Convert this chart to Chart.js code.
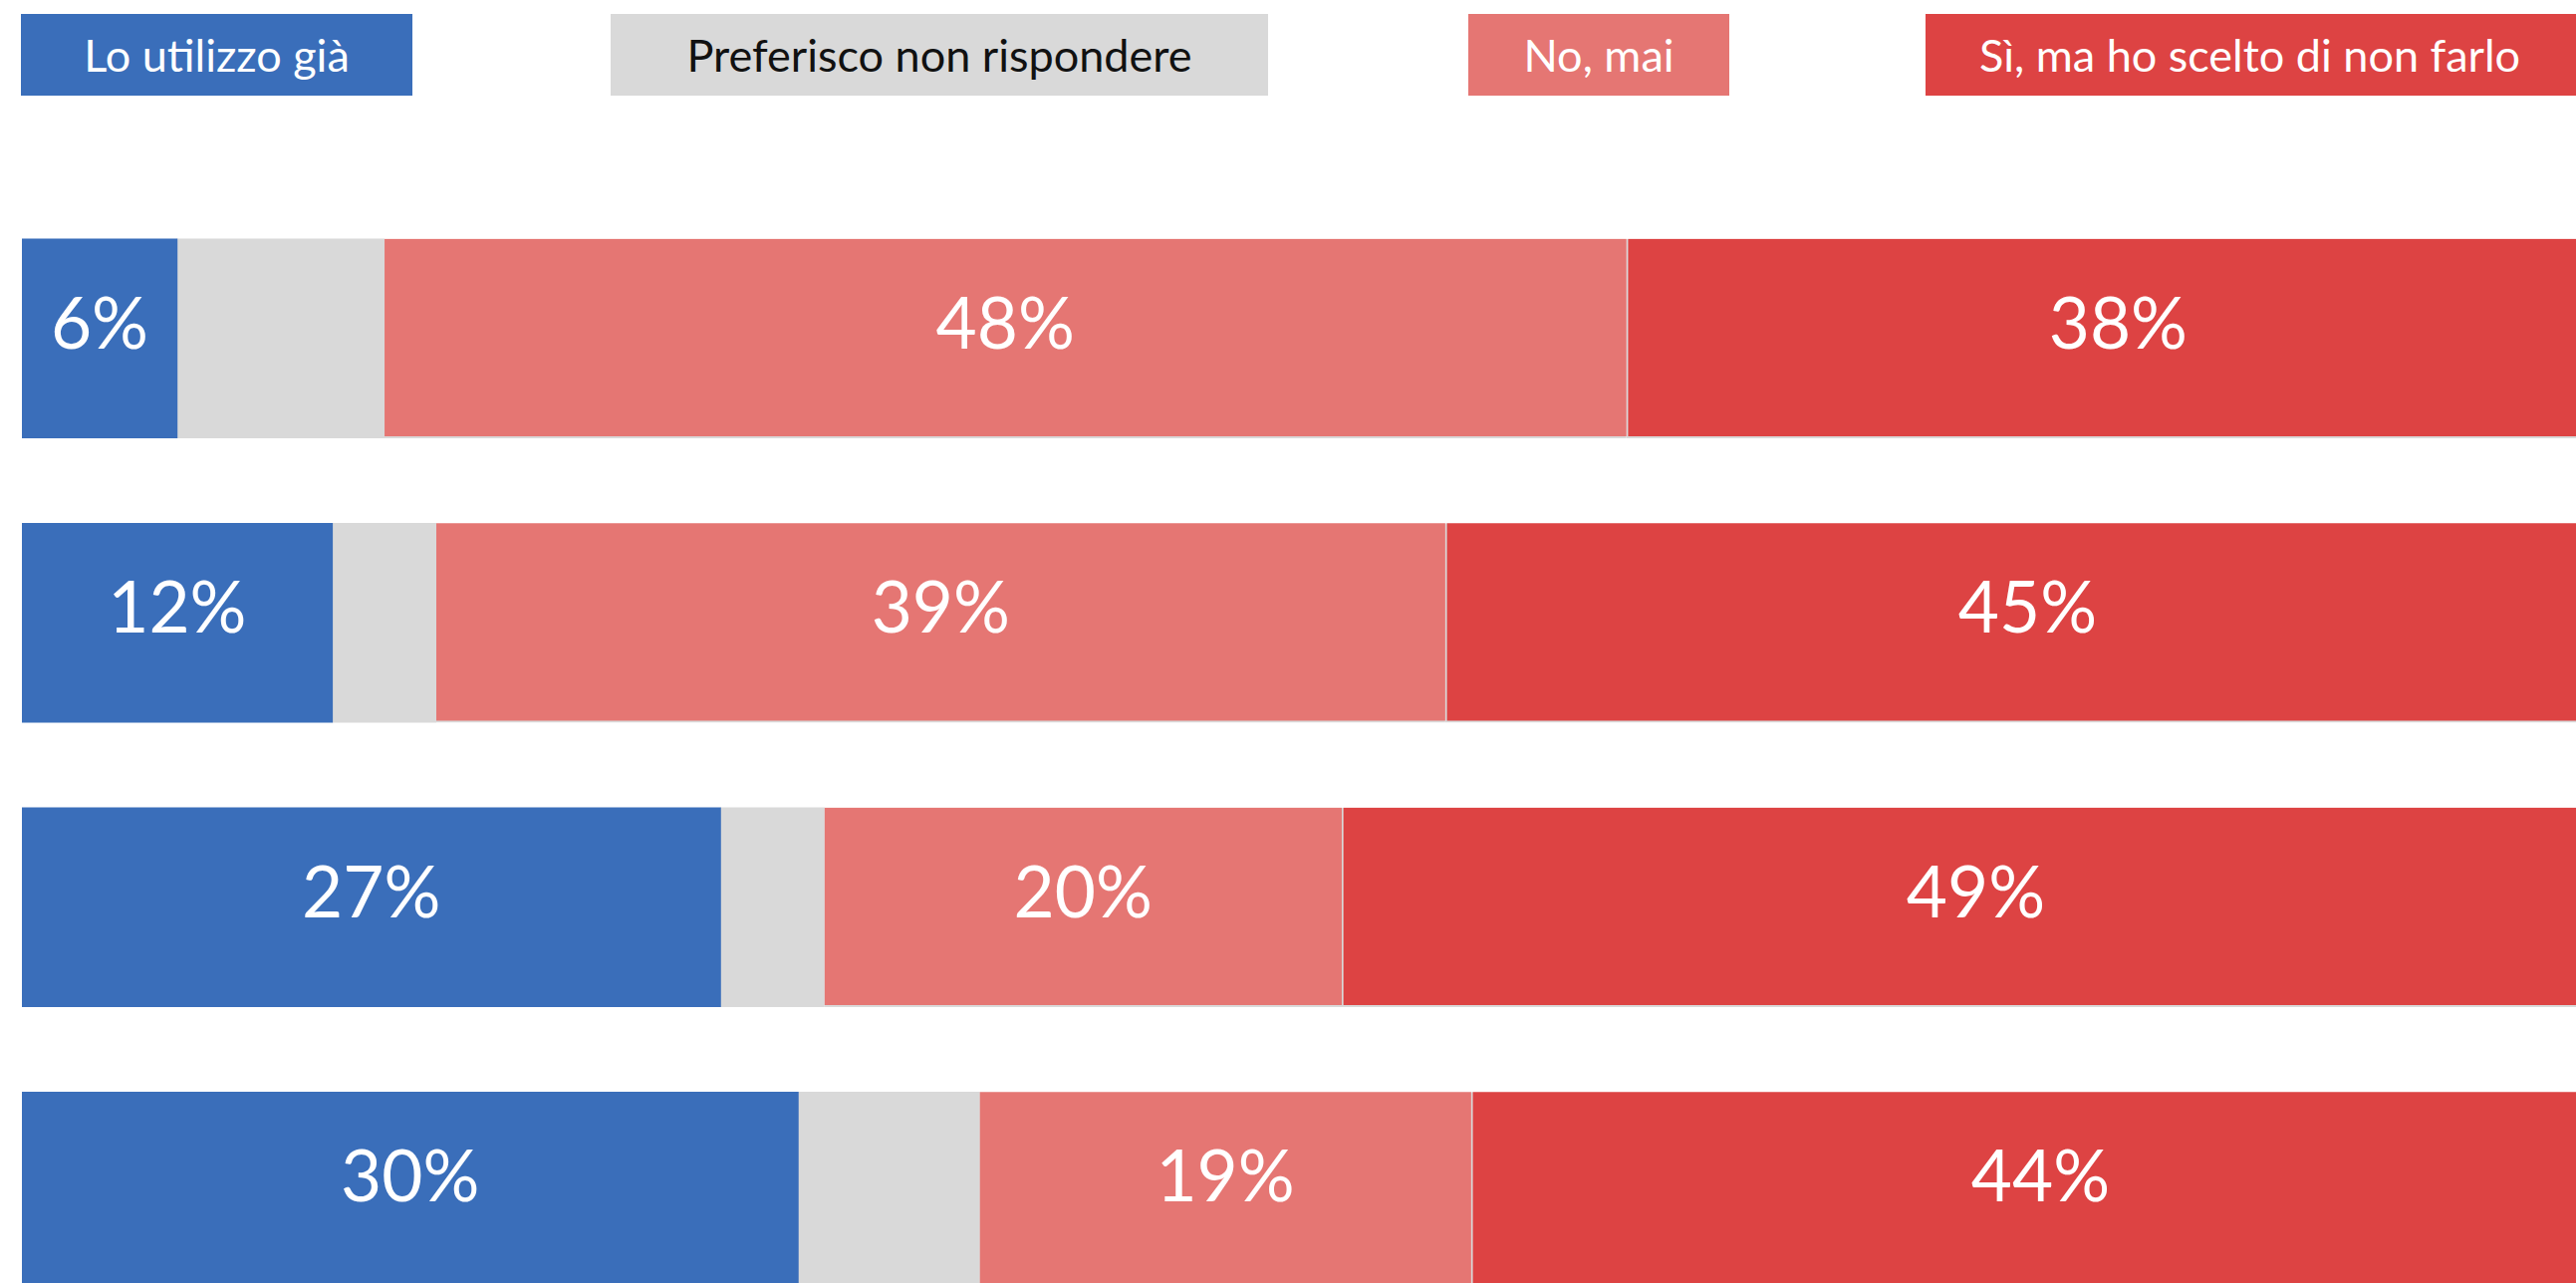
<!DOCTYPE html>
<html lang="it">
<head>
<meta charset="utf-8">
<title>Grafico risposte</title>
<script src="https://cdn.jsdelivr.net/npm/chart.js@4.4.1/dist/chart.umd.min.js"></script>
<style>
  html, body { margin: 0; padding: 0; background: #fff; overflow: hidden; }
  #wrap { position: relative; width: 2586px; height: 1288px; overflow: hidden; }
  #box { position: absolute; left: 0; top: 0; width: 2620px; height: 1339px; }
  .leg {
    position: absolute; top: 14px; height: 82px; line-height: 82px;
    font-family: Lato, "Noto Sans", sans-serif; font-size: 45px;
    text-align: center; white-space: nowrap; box-sizing: border-box; z-index: 2;
  }
</style>
</head>
<body>
<div id="wrap">
  <div id="box"><canvas id="grafico"></canvas></div>
</div>
<script>
const categorie = ["Riga 1", "Riga 2", "Riga 3", "Riga 4"];
const serie = ["Lo utilizzo già", "Preferisco non rispondere", "No, mai", "Sì, ma ho scelto di non farlo"];
const utilizzoGia = [6, 12, 27, 30];
const nonRispondo = [8, 4, 4, 7];
const noMai = [48, 39, 20, 19];
const siNonFarlo = [38, 45, 49, 44];

const colori = ["#3A6EBA", "#D9D9D9", "#E57673", "#DD4343"];
const coloriTesto = ["#fff", "#111", "#fff", "#fff"];
// posizione dei riquadri della legenda (il rosso esce dal bordo destro)
const boxLegenda = [
  { left: 21, width: 393 },
  { left: 613, width: 660 },
  { left: 1474, width: 262 },
  { left: 1933, width: 700, padLeft: 54 }
];

const wrap = document.getElementById("wrap");
serie.forEach((nome, i) => {
  const d = document.createElement("div");
  d.className = "leg";
  d.textContent = nome;
  d.style.left = boxLegenda[i].left + "px";
  d.style.width = boxLegenda[i].width + "px";
  d.style.background = colori[i];
  d.style.color = coloriTesto[i];
  if (boxLegenda[i].padLeft) {
    d.style.textAlign = "left";
    d.style.paddingLeft = boxLegenda[i].padLeft + "px";
  }
  wrap.appendChild(d);
});

const etichette = {
  id: "etichette",
  afterDatasetsDraw(chart) {
    const ctx = chart.ctx;
    ctx.save();
    ctx.font = "71px Lato";
    ctx.fillStyle = "#fff";
    ctx.textAlign = "center";
    ctx.textBaseline = "alphabetic";
    chart.data.datasets.forEach((ds, i) => {
      if (ds.senzaEtichetta) return;
      chart.getDatasetMeta(i).data.forEach((bar, j) => {
        ctx.fillText(ds.data[j] + "%", (bar.x + bar.base) / 2, bar.y + 10);
      });
    });
    ctx.restore();
  }
};

const valori = [utilizzoGia, nonRispondo, noMai, siNonFarlo];
const bordi = [0, 0, { top: 0, right: 0, bottom: 2, left: 0 }, { top: 0, right: 0, bottom: 2, left: 2 }];

new Chart(document.getElementById("grafico"), {
  type: "bar",
  data: {
    labels: categorie,
    datasets: serie.map((nome, i) => ({
      label: nome,
      data: valori[i],
      backgroundColor: colori[i],
      borderColor: "#D9D9D9",
      borderWidth: bordi[i],
      borderSkipped: false,
      barThickness: 200,
      senzaEtichetta: i === 1
    }))
  },
  options: {
    indexAxis: "y",
    responsive: true,
    maintainAspectRatio: false,
    animation: false,
    layout: { padding: { top: 197, left: 22, right: 0, bottom: 0 } },
    plugins: { legend: { display: false }, tooltip: { enabled: false } },
    scales: {
      x: { stacked: true, min: 0, max: 100, display: false },
      y: { stacked: true, display: false }
    }
  },
  plugins: [etichette]
});
</script>
</body>
</html>
